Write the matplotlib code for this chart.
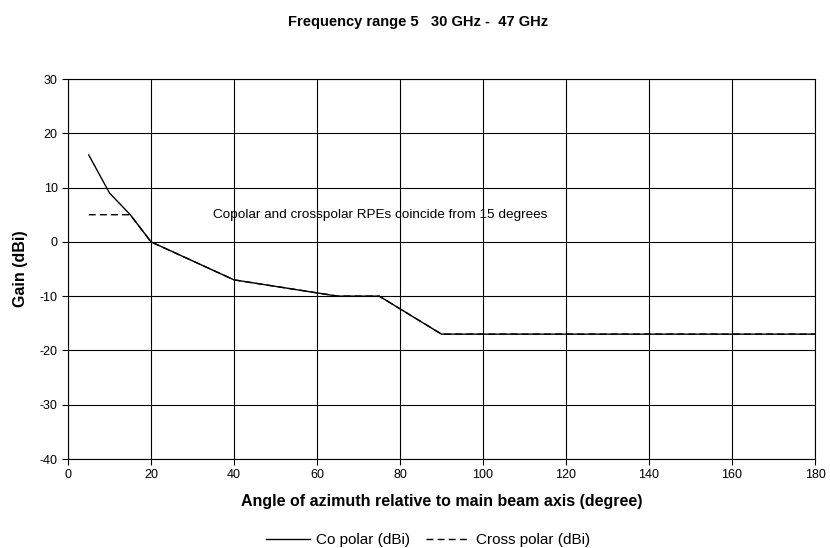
import matplotlib
matplotlib.use('Agg')
import matplotlib.pyplot as plt

plt.rcParams['font.family'] = ['Liberation Sans', 'DejaVu Sans']
plt.rcParams['axes.unicode_minus'] = False

# dados
co_x = [5, 10, 15, 20, 40, 65, 75, 90, 180]
co_y = [16, 9, 5, 0, -7, -10, -10, -17, -17]
cross_x = [5, 15, 20, 40, 65, 75, 90, 180]
cross_y = [5, 5, 0, -7, -10, -10, -17, -17]
x_ticks = list(range(0, 181, 20))
y_ticks = list(range(-40, 31, 10))

fig = plt.figure(figsize=(8.3, 5.48), dpi=100)
ax = fig.add_axes([68/830, 1 - 459/548, (815-68)/830, (459-79)/548])

ax.plot(co_x, co_y, color='black', lw=1.0, label='Co polar (dBi)')
ax.plot(cross_x, cross_y, color='black', lw=1.0, ls=(0, (5, 3)), label='Cross polar (dBi)')

ax.set_xlim(0, 180)
ax.set_ylim(-40, 30)
ax.set_xticks(x_ticks)
ax.set_yticks(y_ticks)
ax.grid(True, color='black', lw=0.8)
ax.set_axisbelow(True)
ax.tick_params(direction='out', length=4, labelsize=9, width=0.8)
for s in ax.spines.values():
    s.set_linewidth(0.8)

# anotacao dentro do grafico
ax.text(35, 5, 'Copolar and crosspolar RPEs coincide from 15 degrees',
        fontsize=9.7, va='center', ha='left')

ax.set_xlabel('Angle of azimuth relative to main beam axis (degree)',
              fontsize=11.5, fontweight='bold', labelpad=9)
ax.set_ylabel('Gain (dBi)', fontsize=11.5, fontweight='bold', labelpad=8)
fig.text(418/830, 1 - 22/548, 'Frequency range 5   30 GHz -  47 GHz',
         ha='center', va='center', fontsize=10.5, fontweight='bold')

fig.legend(loc='center', bbox_to_anchor=(428/830, 1 - 540/548), ncol=2,
           frameon=False, fontsize=11, handlelength=2.9, handletextpad=0.4,
           columnspacing=1.0)

fig.savefig('out.png', dpi=100)
